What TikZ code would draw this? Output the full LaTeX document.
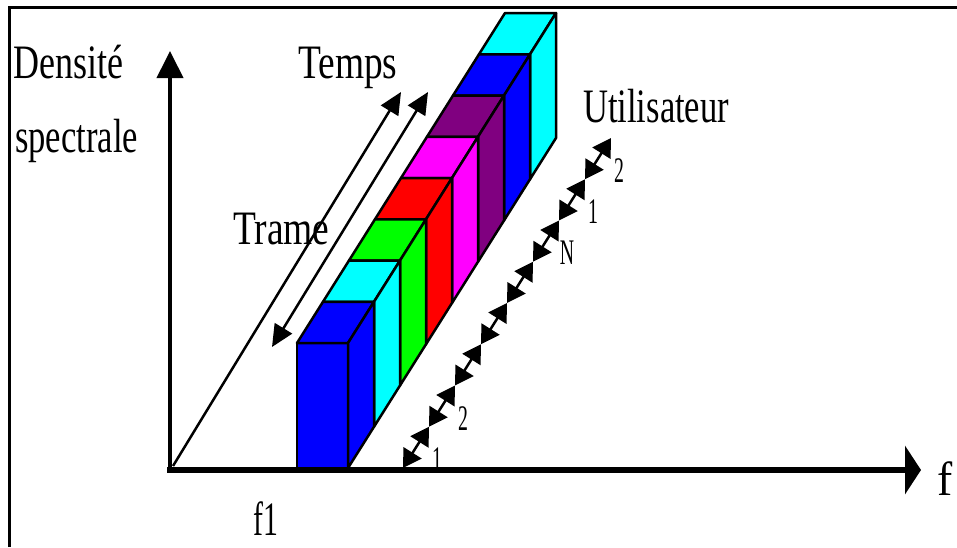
\documentclass[tikz,border=0pt]{standalone}
\usepackage{fontspec}
\setmainfont{Liberation Serif}
\usepackage{graphicx}
\usetikzlibrary{arrows.meta,calc}
\definecolor{slotblue}{RGB}{0,0,255}
\definecolor{slotcyan}{RGB}{0,255,255}
\definecolor{slotgreen}{RGB}{0,255,0}
\definecolor{slotred}{RGB}{255,0,0}
\definecolor{slotmagenta}{RGB}{255,0,255}
\definecolor{slotpurple}{RGB}{128,0,128}
\tikzset{
  face/.style={draw=black, line width=2.5pt, line join=round},
  tline/.style={line width=2.5pt},
  Thead/.tip={Triangle[length=22pt,width=20pt]},
  chain/.style={line width=2.5pt, {Triangle[length=18pt,width=21pt]}-{Triangle[length=18pt,width=21pt]}},
  lbl/.style={inner sep=0pt, anchor=base west, font=\fontsize{48}{48}\selectfont},
  usr/.style={inner sep=0pt, font=\fontsize{36}{36}\selectfont},
}
\newcommand{\sq}[2][0.75]{\scalebox{#1}[1]{#2}}
% one time slot: front, top and side faces
\newcommand{\slot}[2]{%
  \begin{scope}[shift={(26*#1,-41.25*#1)}]
    \filldraw[face, fill=#2] (297,468) rectangle (348,343);
    \filldraw[face, fill=#2] (297,343) -- (348,343) -- (374,301.75) -- (323,301.75) -- cycle;
    \filldraw[face, fill=#2] (348,468) -- (374,426.75) -- (374,301.75) -- (348,343) -- cycle;
  \end{scope}}

\begin{document}
\begin{tikzpicture}[x=1pt, y=-1pt]
\useasboundingbox (0,0) rectangle (957,547);
% cadre
\draw[line width=3pt] (9,547) -- (9,7) -- (957,7);
% axes
\coordinate (O) at (170,470);
\coordinate (dtip) at (170,51);
\coordinate (f0) at (167,470);
\coordinate (ftip) at (921,470);
\coordinate (t0) at (173,466);
\coordinate (ttip) at (401,92);
\coordinate (tr0) at (272,347);
\coordinate (tr1) at (428,92);
\draw[line width=4pt, -{Triangle[length=27pt,width=26pt]}] (O) -- (dtip);
\draw[tline, -{Thead}] (t0) -- (ttip);
\draw[tline, {Thead}-{Thead}] (tr0) -- (tr1);
% trames, de l'arriere vers l'avant
\slot{7}{slotcyan}
\slot{6}{slotblue}
\slot{5}{slotpurple}
\slot{4}{slotmagenta}
\slot{3}{slotred}
\slot{2}{slotgreen}
\slot{1}{slotcyan}
\slot{0}{slotblue}
\draw[line width=5.5pt, -{Triangle[length=16pt,width=48pt]}] (f0) -- (ftip);
% utilisateurs
\coordinate (u0) at (403,468);
\coordinate (u1) at (429,426.75);
\coordinate (u2) at (455,385.5);
\coordinate (u3) at (481,344.25);
\coordinate (u4) at (507,303);
\coordinate (u5) at (533,261.75);
\coordinate (u6) at (559,220.5);
\coordinate (u7) at (585,179.25);
\coordinate (u8) at (611,138);
\draw[chain] (u0) -- node[usr, xshift=21pt, yshift=-12pt] {\sq[0.55]{1}} (u1);
\draw[chain] (u1) -- node[usr, xshift=21pt, yshift=-12pt] {\sq[0.55]{2}} (u2);
\draw[chain] (u2) -- (u3); \draw[chain] (u3) -- (u4); \draw[chain] (u4) -- (u5);
\draw[chain] (u5) -- node[usr, xshift=21pt, yshift=-12pt] {\sq[0.55]{N}} (u6);
\draw[chain] (u6) -- node[usr, xshift=21pt, yshift=-12pt] {\sq[0.55]{1}} (u7);
\draw[chain] (u7) -- node[usr, xshift=21pt, yshift=-12pt] {\sq[0.55]{2}} (u8);
% textes
\node[lbl] (dens) at (13,78) {\sq{Densité}};
\node[lbl] (spec) at (15,152) {\sq[0.72]{spectrale}};
\node[lbl] (temps) at (298,78) {\sq[0.78]{Temps}};
\node[lbl] (trame) at (233,244) {\sq[0.78]{Trame}};
\node[lbl] (user) at (583,122) {\sq[0.72]{Utilisateur}};
\node[lbl] (f1) at (253,535) {\sq[0.62]{f1}};
\node[lbl] (f) at (937,495) {\sq[0.95]{f}};
\end{tikzpicture}
\end{document}
